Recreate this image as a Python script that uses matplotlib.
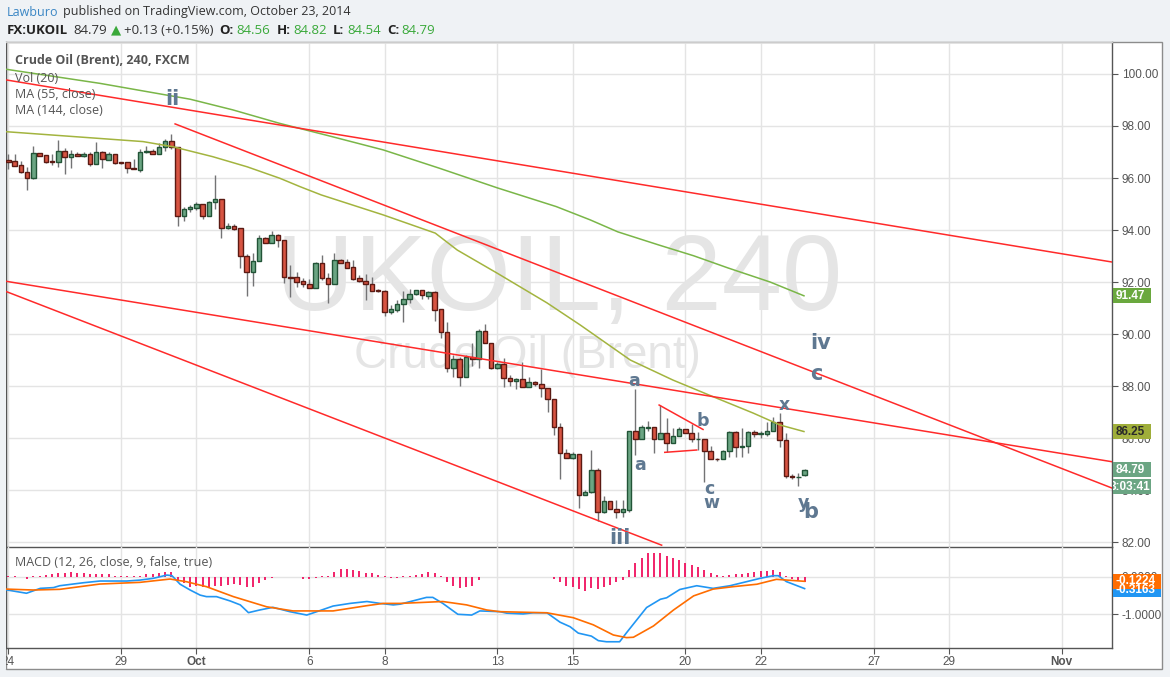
import matplotlib
matplotlib.use('Agg')
import matplotlib.pyplot as plt
import matplotlib.transforms as mtransforms
from matplotlib.patches import Rectangle
from matplotlib.transforms import Bbox, TransformedBbox
import numpy as np

# UKOIL 240 min candles, Sep 24 .. Oct 23 2014
opens = [96.69, 96.64, 96.49, 96.22, 95.99, 96.95, 96.87, 96.65, 96.63, 97.03,
         96.82, 96.91, 96.86, 96.91, 96.55, 96.99, 96.70, 96.91, 96.60, 96.60,
         96.38, 96.30, 96.99, 97.03, 96.93, 97.18, 97.41, 97.18, 94.55, 94.81,
         94.86, 95.00, 94.55, 95.07, 95.18, 94.07, 94.17, 94.07, 92.99, 92.37,
         92.80, 93.68, 93.49, 93.80, 93.62, 92.19, 92.18, 92.03, 91.92, 91.78,
         92.74, 92.14, 91.93, 92.85, 92.77, 92.56, 92.14, 92.05, 91.92, 91.68,
         91.65, 90.83, 90.94, 91.14, 91.33, 91.53, 91.68, 91.47, 91.60, 90.95,
         90.06, 88.68, 89.04, 88.33, 89.10, 89.03, 90.10, 89.67, 88.68, 88.83,
         88.30, 88.18, 88.26, 87.97, 88.14, 88.07, 87.91, 87.50, 86.41, 85.41,
         85.22, 85.38, 83.82, 83.92, 84.76, 83.16, 83.58, 83.26, 83.17, 83.23,
         86.27, 85.95, 86.40, 86.41, 85.97, 86.18, 85.80, 86.07, 86.33, 86.19,
         85.96, 85.97, 85.49, 85.20, 85.19, 85.49, 86.22, 85.64, 85.68, 86.24,
         86.15, 86.15, 86.28, 86.60, 85.92, 84.55, 84.49, 84.56]
highs = [96.93, 96.92, 96.65, 96.41, 97.23, 96.97, 96.90, 96.91, 97.46, 97.14,
         97.08, 96.99, 96.99, 96.99, 97.38, 97.03, 96.99, 96.91, 96.63, 96.60,
         96.73, 97.10, 97.23, 97.10, 97.33, 97.50, 97.69, 97.20, 94.90, 94.96,
         95.09, 95.00, 95.11, 96.12, 95.18, 94.26, 94.22, 94.07, 93.08, 93.10,
         93.81, 93.74, 93.96, 93.83, 93.62, 92.65, 92.40, 92.14, 92.10, 92.78,
         93.04, 92.33, 93.10, 92.87, 92.87, 92.85, 92.27, 92.30, 92.20, 91.72,
         91.70, 91.12, 91.31, 91.65, 91.72, 91.68, 91.68, 91.66, 91.66, 90.95,
         90.47, 89.19, 89.13, 89.19, 89.66, 90.18, 90.38, 89.67, 88.93, 89.07,
         88.42, 88.30, 88.93, 88.36, 88.19, 88.64, 87.91, 87.50, 86.59, 85.57,
         85.47, 85.38, 83.99, 85.54, 84.83, 83.77, 83.58, 83.60, 83.62, 86.27,
         87.87, 86.50, 86.67, 86.41, 87.27, 86.76, 86.37, 86.43, 86.33, 86.54,
         86.24, 85.97, 85.69, 85.24, 85.54, 86.27, 86.27, 86.37, 86.27, 86.31,
         86.27, 86.63, 86.82, 86.95, 86.18, 84.61, 84.64, 84.82]
lows = [96.33, 96.45, 96.20, 95.54, 95.95, 96.85, 96.59, 96.51, 96.43, 96.17,
        96.40, 96.85, 96.82, 96.47, 96.55, 96.40, 96.70, 96.55, 96.55, 96.20,
        96.33, 96.24, 96.95, 96.93, 96.91, 97.03, 97.10, 94.17, 94.36, 94.70,
        94.77, 94.43, 94.55, 94.82, 93.70, 94.05, 94.00, 92.53, 91.47, 91.86,
        92.80, 93.49, 93.49, 93.36, 91.97, 91.41, 91.82, 91.82, 91.76, 91.76,
        92.08, 91.18, 91.93, 92.74, 92.53, 92.08, 92.01, 91.31, 91.67, 91.63,
        90.70, 90.77, 90.86, 90.47, 91.18, 91.50, 91.33, 91.33, 90.51, 89.83,
        88.53, 88.36, 88.01, 88.33, 88.77, 88.68, 89.64, 88.64, 88.67, 87.95,
        88.00, 87.87, 87.97, 87.97, 88.01, 87.59, 87.01, 86.11, 84.41, 85.22,
        85.19, 83.32, 83.82, 83.87, 82.82, 83.10, 83.26, 82.91, 82.97, 83.16,
        85.35, 85.95, 86.28, 85.41, 85.97, 85.47, 85.80, 86.07, 86.18, 85.86,
        85.54, 84.32, 85.19, 85.13, 85.19, 85.28, 85.28, 85.26, 85.41, 86.05,
        86.00, 86.09, 86.26, 85.64, 84.45, 84.43, 84.16, 84.54]
closes = [96.63, 96.47, 96.22, 96.01, 96.95, 96.86, 96.63, 96.63, 97.03, 96.82,
          96.91, 96.86, 96.91, 96.55, 96.99, 96.72, 96.92, 96.59, 96.58, 96.37,
          96.33, 96.99, 97.03, 96.93, 97.18, 97.41, 97.18, 94.55, 94.81, 94.88,
          95.00, 94.55, 95.09, 95.18, 94.07, 94.17, 94.05, 92.99, 92.37, 92.81,
          93.68, 93.49, 93.80, 93.62, 92.18, 92.17, 92.01, 91.91, 91.78, 92.74,
          92.14, 91.93, 92.85, 92.74, 92.55, 92.13, 92.05, 91.91, 91.67, 91.66,
          90.83, 90.96, 91.15, 91.35, 91.54, 91.68, 91.49, 91.60, 90.93, 90.06,
          88.68, 89.04, 88.33, 89.10, 89.03, 90.10, 89.67, 88.68, 88.83, 88.30,
          88.18, 88.26, 87.97, 88.14, 88.07, 87.91, 87.50, 86.41, 85.41, 85.22,
          85.38, 83.82, 83.92, 84.76, 83.16, 83.58, 83.26, 83.17, 83.26, 86.27,
          85.95, 86.41, 86.42, 85.97, 86.18, 85.80, 86.07, 86.33, 86.19, 85.95,
          85.98, 85.49, 85.19, 85.18, 85.49, 86.22, 85.64, 85.68, 86.24, 86.15,
          86.18, 86.28, 86.60, 85.92, 84.55, 84.49, 84.51, 84.79]

# moving averages, read at a few bars
ma144_bar = [-0.3, 14.6, 29.0, 35.8, 43.3, 51.0, 59.8, 68.7, 78.0, 87.4, 92.8, 97.2, 103.8, 109.3, 114.8, 121.5, 126.9]
ma144_val = [100.18, 99.64, 99.03, 98.62, 98.10, 97.63, 97.08, 96.38, 95.62, 94.90, 94.39, 93.93, 93.42, 93.01, 92.54, 92.00, 91.47]
ma55_bar = [-0.3, 21.5, 26.3, 32.6, 38.1, 43.3, 46.5, 49.9, 59.8, 68.1, 71.6, 77.9, 85.9, 91.2, 99.2, 106.0, 112.4, 118.8, 123.1, 126.9]
ma55_val = [97.78, 97.40, 97.20, 96.82, 96.43, 95.99, 95.67, 95.35, 94.58, 93.88, 93.23, 92.35, 91.20, 90.35, 89.00, 88.23, 87.59, 86.96, 86.50, 86.25]

# MACD (12, 26, 9)
macd_bar = [-0.3, 2.9, 5.1, 7.2, 8.2, 12.0, 14.6, 18.9, 21.0, 23.1, 25.3, 26.1, 27.4, 29.0, 30.6, 31.6,
            33.2, 35.4, 37.0, 38.3, 40.1, 42.2, 44.9, 47.6, 49.2, 51.8, 54.5, 57.2, 59.3, 61.4, 62.5,
            64.6, 66.7, 67.7, 69.3, 71.7, 73.9, 75.2, 78.4, 79.5, 82.1, 83.7, 85.9, 88.0, 89.6, 90.9,
            93.0, 94.1, 95.4, 97.5, 98.6, 101.8, 104.0, 105.0, 107.1, 109.8, 112.4, 115.1, 117.8,
            119.9, 122.0, 122.8, 124.1, 127.0]
macd_val = [-0.35, -0.44, -0.31, -0.29, -0.24, -0.16, -0.115, -0.115, -0.09, -0.044, 0.044, 0.027, -0.20,
            -0.354, -0.49, -0.53, -0.53, -0.646, -0.75, -0.956, -0.885, -0.814, -0.93, -1.02, -0.93,
            -0.78, -0.71, -0.66, -0.71, -0.75, -0.73, -0.64, -0.55, -0.55, -0.71, -1.00, -1.02, -0.91,
            -0.93, -0.97, -0.99, -0.96, -0.96, -1.21, -1.33, -1.50, -1.58, -1.70, -1.73, -1.73, -1.49,
            -0.82, -0.60, -0.56, -0.34, -0.24, -0.31, -0.24, -0.13, -0.044, 0.027, 0.027, -0.13, -0.3163]
signal_bar = [-0.3, 4.0, 8.2, 14.6, 21.0, 25.8, 28.4, 31.6, 35.9, 41.2, 45.4, 51.8, 57.2, 59.8, 62.5,
              69.3, 73.1, 76.3, 78.4, 85.9, 90.1, 93.3, 96.5, 98.6, 99.7, 102.9, 106.1, 109.3, 112.4,
              115.6, 119.4, 122.5, 127.0]
signal_val = [-0.33, -0.354, -0.336, -0.195, -0.15, -0.062, -0.133, -0.265, -0.53, -0.80, -0.91, -0.91,
              -0.77, -0.71, -0.71, -0.66, -0.75, -0.885, -0.93, -0.96, -1.09, -1.28, -1.55, -1.62, -1.61,
              -1.31, -0.885, -0.51, -0.33, -0.265, -0.20, -0.07, -0.1224]
hist = [0.01, 0.01, -0.02, -0.07, 0.01, 0.02, 0.04, 0.06, 0.10, 0.10,
        0.12, 0.11, 0.10, 0.08, 0.08, 0.07, 0.06, 0.03, 0.01, 0.01,
        0.02, 0.03, 0.06, 0.08, 0.10, 0.12, 0.12, -0.08, -0.17, -0.27,
        -0.25, -0.27, -0.27, -0.25, -0.24, -0.22, -0.20, -0.22, -0.27, -0.27,
        -0.18, -0.10, -0.04, -0.02, -0.01, -0.02, -0.02, -0.05, -0.05, -0.04,
        0.01, 0.02, 0.12, 0.20, 0.20, 0.17, 0.14, 0.10, 0.10, 0.05,
        0.01, -0.04, -0.04, 0.01, 0.01, 0.05, 0.08, 0.12, 0.10, 0.01,
        -0.13, -0.24, -0.30, -0.28, -0.24, -0.10, -0.02, -0.01, -0.02, -0.01,
        -0.01, -0.01, -0.02, -0.02, -0.01, -0.02, -0.01, -0.05, -0.15, -0.25,
        -0.28, -0.33, -0.37, -0.30, -0.32, -0.27, -0.22, -0.15, -0.08, 0.19,
        0.36, 0.51, 0.64, 0.64, 0.64, 0.55, 0.50, 0.44, 0.37, 0.30,
        0.26, 0.18, 0.10, 0.05, 0.02, 0.05, 0.07, 0.07, 0.09, 0.12,
        0.14, 0.14, 0.18, 0.12, 0.01, -0.05, -0.09, -0.15]

# trend lines drawn on the chart: (bar0, price0, bar1, price1)
trend_lines = [(-0.3, 99.77, 176.0, 92.77),
               (26.6, 98.08, 176.0, 84.08),
               (-0.4, 92.03, 176.0, 85.09),
               (-0.3, 91.63, 104.2, 81.88),
               (103.8, 87.27, 110.8, 86.33),
               (104.7, 85.45, 109.8, 85.54)]

# wave labels: text, bar, price, big?
wave_labels = [('ii', 26.1, 99.04, True), ('iii', 97.6, 82.15, True), ('iv', 129.5, 89.65, True),
               ('a', 99.8, 88.19, False), ('a', 100.7, 84.96, False), ('b', 110.8, 86.65, False),
               ('c', 111.8, 84.04, False), ('w', 112.1, 83.50, False), ('x', 123.7, 87.27, False),
               ('c', 128.8, 88.46, True), ('y', 126.9, 83.50, False), ('b', 128.0, 83.15, True)]

tick_days = [0, 3, 5, 8, 10, 13, 15, 18, 20, 23, 25, 28]
tick_labels = ['24', '29', 'Oct', '6', '8', '13', '15', '20', '22', '27', '29', 'Nov']
bars_per_day = 6
price_ticks = [82, 84, 86, 88, 90, 92, 94, 96, 98, 100]

W, H = 1170, 677
BG = '#eff2f5'
fig = plt.figure(figsize=(W / 100, H / 100), dpi=100, facecolor=BG)


def fx(px):
    return px / W


def fy(py):
    return 1 - py / H


# white chart panel
fig.add_artist(Rectangle((fx(6), fy(669)), fx(1162) - fx(6), fy(42) - fy(669),
                         transform=fig.transFigure, fc='white', ec='#8c8c8c', lw=1, zorder=-1))

ax = fig.add_axes([fx(6), fy(547), fx(1112) - fx(6), fy(42) - fy(547)])
mx = fig.add_axes([fx(6), fy(648), fx(1112) - fx(6), fy(547) - fy(648)], sharex=ax)
for a in (ax, mx):
    a.set_facecolor('none')
    a.set_axisbelow(True)
    for s in a.spines.values():
        s.set_color('#555555')
        s.set_linewidth(1)
ax.spines['top'].set_color('#cccccc')
mx.spines['top'].set_visible(False)

ax.set_xlim(-0.37, 176.03)
ax.set_ylim(81.81, 101.23)
mx.set_ylim(-1.896, 0.79)

xt = [d * bars_per_day for d in tick_days]
ax.set_xticks(xt)
ax.tick_params(axis='x', length=0, labelbottom=False)
mx.set_xticks(xt)
mx.set_xticklabels(tick_labels)
mx.tick_params(axis='x', length=4, color='#555555', labelsize=8.5, labelcolor='#555555', pad=2)
for t in mx.get_xticklabels():
    t.set_fontfamily('Liberation Sans')
    if t.get_text() in ('Oct', 'Nov'):
        t.set_fontweight('bold')

ax.yaxis.tick_right()
ax.set_yticks(price_ticks)
ax.set_yticklabels([f'{v:.2f}' for v in price_ticks], family='Liberation Sans')
ax.tick_params(axis='y', length=4, color='#555555', labelsize=8.5, labelcolor='#555555', pad=3)
mx.yaxis.tick_right()
mx.set_yticks([0, -1])
mx.set_yticklabels(['0.0000', '-1.0000'], family='Liberation Sans')
mx.tick_params(axis='y', length=4, color='#555555', labelsize=8.5, labelcolor='#555555', pad=3)
for a in (ax, mx):
    a.grid(True, color='#e4e4e4', lw=1)

# watermark, under the candles
ax.text(fx(559), fy(310), 'UKOIL, 240', transform=fig.transFigure, fontsize=78, family='Liberation Sans',
        color='#e5e5e5', ha='center', va='baseline', zorder=1, clip_on=False)
ax.text(fx(527), fy(368), 'Crude Oil (Brent)', transform=fig.transFigure, fontsize=33,
        family='Liberation Sans', color='#e5e5e5', ha='center', va='baseline', zorder=1, clip_on=False)

# candles
o = np.array(opens)
h = np.array(highs)
l = np.array(lows)
c = np.array(closes)
x = np.arange(len(c))
up = c >= o
ax.vlines(x, l, h, color='#737375', lw=1, zorder=3)
lo = np.minimum(o, c)
bh = np.maximum(np.abs(c - o), 0.02)
ax.bar(x[up], bh[up], bottom=lo[up], width=0.72, color='#6ba583', edgecolor='#225437', lw=1, zorder=4)
ax.bar(x[~up], bh[~up], bottom=lo[~up], width=0.72, color='#d75442', edgecolor='#5b1a13', lw=1, zorder=4)

ax.plot(ma144_bar, ma144_val, color='#7ab648', lw=1.1, zorder=5)
ax.plot(ma55_bar, ma55_val, color='#a3b43f', lw=1.1, zorder=5)

for x0, y0, x1, y1 in trend_lines:
    ax.plot([x0, x1], [y0, y1], color='#ff2a2a', lw=1.1, zorder=6)

for txt, bx, py, big in wave_labels:
    ax.text(bx, py, txt, fontsize=15 if big else 12.5, fontweight='bold', family='DejaVu Sans',
            color='#5f7891', ha='center', va='center', zorder=7, clip_on=True)

# MACD pane
hv = np.array(hist)
mx.vlines(np.arange(len(hv)), 0, hv, color='#f0105e', lw=1.3, zorder=3)
mx.plot(macd_bar, macd_val, color='#2196f3', lw=1.2, zorder=4)
mx.plot(signal_bar, signal_val, color='#ff6d00', lw=1.2, zorder=5)

# last value tags on the scales
fig.canvas.draw()
rend = fig.canvas.get_renderer()


def tag(axis, y, s, fc, tc='white', width=38, clipped=False):
    trans = mtransforms.blended_transform_factory(fig.transFigure, axis.transData)
    y0, y1 = axis.get_ylim()
    bb = axis.get_window_extent()
    half = 7.5 * (y1 - y0) / bb.height
    fig.add_artist(Rectangle((fx(1113), y - half), fx(width), 2 * half, transform=trans,
                             fc=fc, ec='none', zorder=8))
    if clipped:
        t = fig.text(fx(1151), y, s, transform=trans, fontsize=8.5, fontweight='bold',
                     family='Liberation Sans', color=tc, ha='right', va='center', zorder=9)
        t.set_clip_box(TransformedBbox(Bbox.from_extents(fx(1113), 0, 1, 1), fig.transFigure))
        t.set_clip_on(True)
    else:
        fig.text(fx(1116), y, s, transform=trans, fontsize=8.5, fontweight='bold',
                 family='Liberation Sans', color=tc, ha='left', va='center', zorder=9)


tag(ax, 91.47, '91.47', '#6aa83e')
tag(ax, 86.25, '86.25', '#9fae3a', tc='#2a2a2a')
tag(ax, closes[-1], '84.79', '#6ba583')
tag(ax, 84.12, '3:03:41', '#6ba583', clipped=True)
tag(mx, -0.345, '-0.3163', '#2196f3', width=48)
tag(mx, signal_val[-1], '-0.1224', '#ff6d00', width=48)


# header: pieces laid out one after the other
def chain(pieces, ypx, size):
    xpos = 7
    for s, col, wt, gap in pieces:
        t = fig.text(fx(xpos), fy(ypx), s, color=col, fontweight=wt, fontsize=size,
                     family=['Open Sans', 'DejaVu Sans'], va='center')
        xpos += t.get_window_extent(renderer=rend).width + gap


green = '#3aa93a'
chain([('Lawburo', '#3a86c4', 'normal', 4.5),
       ('published on TradingView.com, October 23, 2014', '#333333', 'normal', 0)], 12, 9.0)
chain([('FX:UKOIL', '#222222', 'bold', 5), ('84.79', '#333333', 'normal', 4),
       ('\u25b2', green, 'normal', 3), ('+0.13 (+0.15%)', '#333333', 'normal', 6),
       ('O:', '#222222', 'bold', 2.5), ('84.56', green, 'normal', 6.5),
       ('H:', '#222222', 'bold', 2.5), ('84.82', green, 'normal', 6.5),
       ('L:', '#222222', 'bold', 2.5), ('84.54', green, 'normal', 6.5),
       ('C:', '#222222', 'bold', 2.5), ('84.79', green, 'normal', 0)], 30, 9.5)

leg = dict(family=['Open Sans', 'DejaVu Sans'], fontsize=9, va='center', color='#555555', zorder=9)
fig.text(fx(15), fy(61), 'Crude Oil (Brent), 240, FXCM', fontweight='bold', **leg)
fig.text(fx(15), fy(78), 'Vol (20)', **leg)
fig.text(fx(15), fy(95), 'MA (55, close)', **leg)
fig.text(fx(15), fy(111), 'MA (144, close)', **leg)
fig.text(fx(15), fy(563), 'MACD (12, 26, close, 9, false, true)', **leg)

# hide what spills left of the panel
fig.add_artist(Rectangle((0, fy(669)), fx(5.5), fy(42) - fy(669), transform=fig.transFigure,
                         fc=BG, ec='none', zorder=10))

fig.savefig('out.png', dpi=100, facecolor=fig.get_facecolor())
